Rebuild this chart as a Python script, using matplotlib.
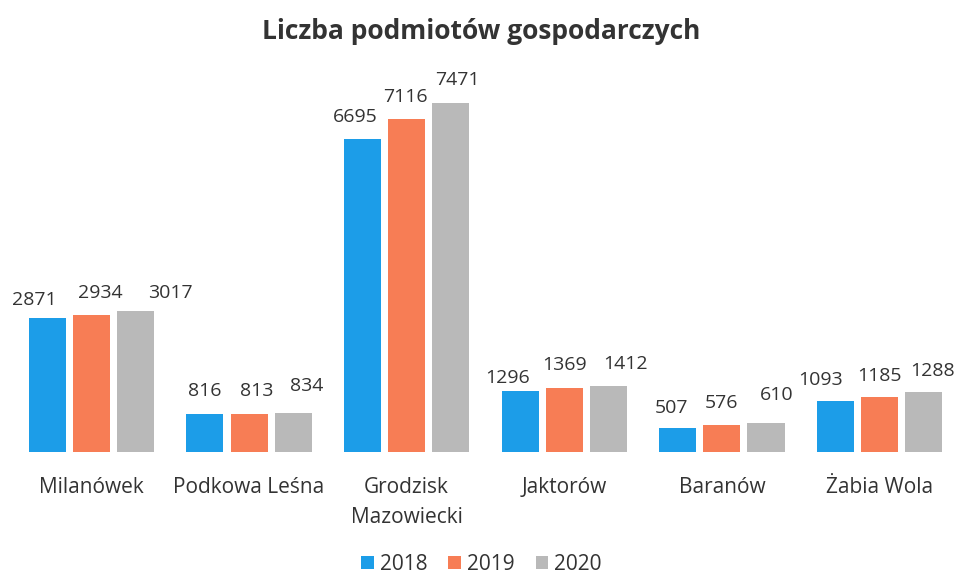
import numpy as np
import matplotlib.pyplot as plt

plt.rcParams['font.family'] = ['Open Sans', 'DejaVu Sans']

gminy = ['Milanówek', 'Podkowa Leśna', 'Grodzisk\nMazowiecki', 'Jaktorów', 'Baranów', 'Żabia Wola']
lata = ['2018', '2019', '2020']
v2018 = [2871, 816, 6695, 1296, 507, 1093]
v2019 = [2934, 813, 7116, 1369, 576, 1185]
v2020 = [3017, 834, 7471, 1412, 610, 1288]
kolory = ['#1c9de8', '#f77d55', '#b9b9b9']

# przesuniecia etykiet (px), jak w oryginale
dx = [[-13, 9, 35], [0, 8, 14], [-7, -1, 7], [-13, 0, 17], [-6, 0, 11], [-15, 0, 9]]
dy = [[13, 17, 13], [18, 18, 22], [17, 17, 18], [8, 18, 17], [15, 17, 23], [16, 16, 16]]

fig = plt.figure(figsize=(9.63, 5.75), dpi=100)
ax = fig.add_axes([0, 0.214, 1, 0.65])

x = np.arange(len(gminy))
w = 0.235
off = 0.28
for i, (vals, lab) in enumerate(zip([v2018, v2019, v2020], lata)):
    bars = ax.bar(x + (i - 1) * off, vals, w, color=kolory[i], label=lab)
    for j, (b, v) in enumerate(zip(bars, vals)):
        ax.annotate(str(v), (b.get_x() + b.get_width() / 2, v),
                    xytext=(dx[j][i] * 0.72, dy[j][i] * 0.72), textcoords='offset points',
                    ha='center', va='baseline', fontsize=14, color='#333333')

ax.set_xlim(-0.58, 5.53)
ax.set_ylim(0, 8000)
for s in ax.spines.values():
    s.set_visible(False)
ax.set_yticks([])
ax.set_xticks(x)
ax.set_xticklabels(gminy, fontsize=15, color='#333333', linespacing=1.55)
ax.tick_params(axis='x', length=0, pad=18)

fig.text(0.5, 0.945, 'Liczba podmiotów gospodarczych', ha='center', va='center',
         fontsize=19, fontweight='bold', color='#333333')

fig.legend(loc='center', bbox_to_anchor=(0.5, 0.018), ncol=3, frameon=False,
           fontsize=15, handlelength=0.6, handleheight=0.6, handletextpad=0.3,
           columnspacing=1.0, labelcolor='#333333')

fig.savefig('out.png', dpi=100)
